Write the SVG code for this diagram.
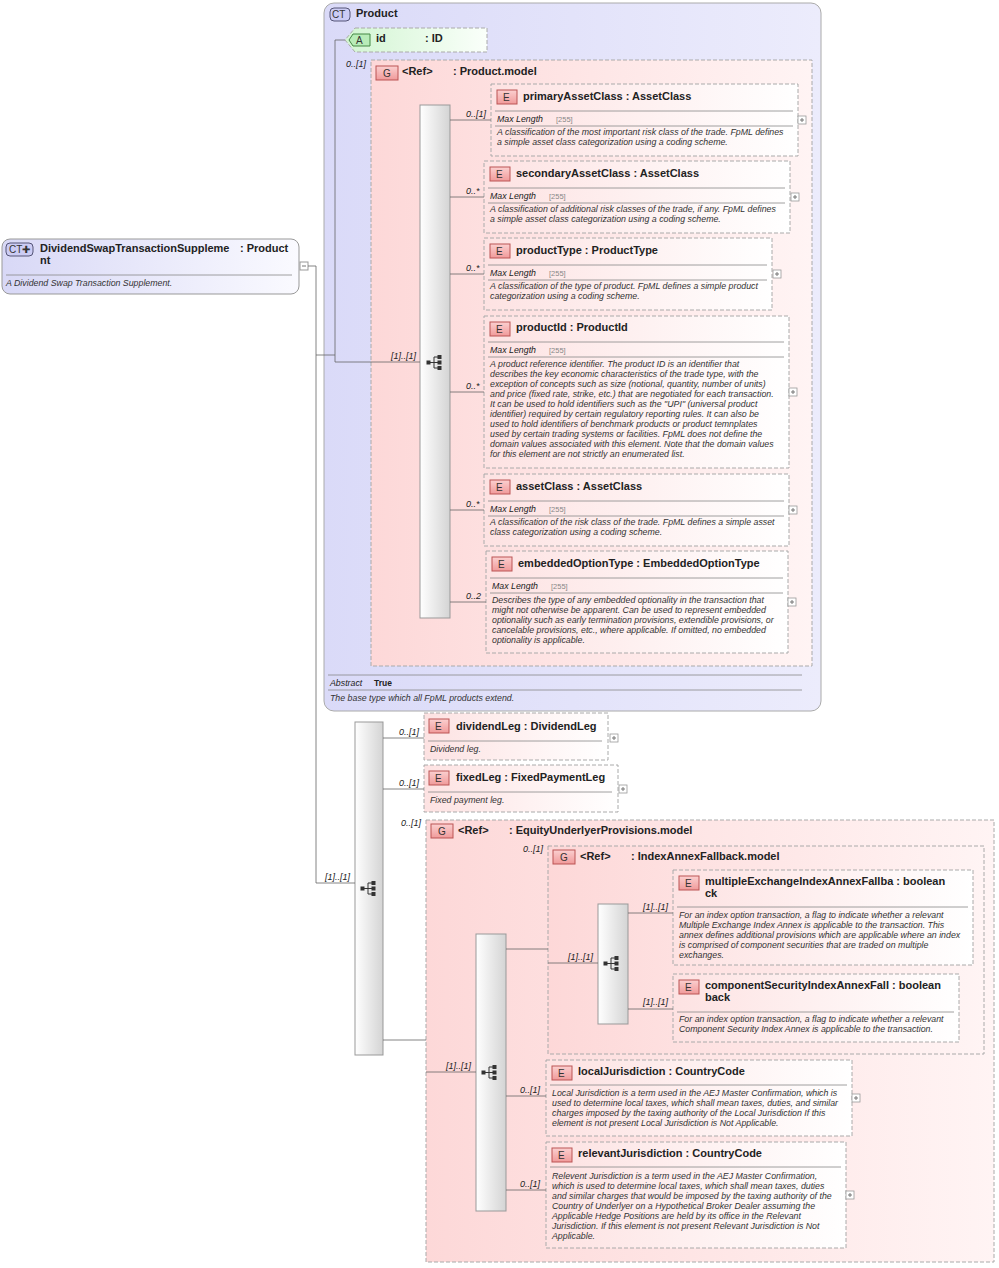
<svg xmlns="http://www.w3.org/2000/svg" width="999" height="1268" viewBox="0 0 999 1268">
<defs>
<linearGradient id="ct" x1="0" y1="0" x2="1" y2="0"><stop offset="0" stop-color="#dadaf8"/><stop offset="1" stop-color="#ececfc"/></linearGradient>
<linearGradient id="root" x1="0" y1="0" x2="1" y2="0"><stop offset="0" stop-color="#d8d8f6"/><stop offset="1" stop-color="#fafaff"/></linearGradient>
<linearGradient id="grp" x1="0" y1="0" x2="1" y2="0"><stop offset="0" stop-color="#fdd8d8"/><stop offset="1" stop-color="#fff4f4"/></linearGradient>
<linearGradient id="el" x1="0" y1="0" x2="1" y2="0"><stop offset="0" stop-color="#fde2e2"/><stop offset="1" stop-color="#ffffff"/></linearGradient>
<linearGradient id="seq" x1="0" y1="0" x2="1" y2="0"><stop offset="0" stop-color="#ffffff"/><stop offset="1" stop-color="#d4d4d4"/></linearGradient>
<linearGradient id="att" x1="0" y1="0" x2="1" y2="0"><stop offset="0" stop-color="#d2f5d2"/><stop offset="1" stop-color="#fafffa"/></linearGradient>
<linearGradient id="eb" x1="0" y1="0" x2="0" y2="1"><stop offset="0" stop-color="#fbd0d0"/><stop offset="1" stop-color="#f09a9a"/></linearGradient>
<g id="seqicon" stroke="#333" fill="#333"><rect x="-9" y="-1" width="3" height="3"/><line x1="-6" y1="0.5" x2="-2" y2="0.5"/><line x1="-2" y1="-5" x2="-2" y2="6"/><line x1="-2" y1="-5" x2="2" y2="-5"/><line x1="-2" y1="0.5" x2="2" y2="0.5"/><line x1="-2" y1="6" x2="2" y2="6"/><rect x="2" y="-6.5" width="3" height="3"/><rect x="2" y="-1" width="3" height="3"/><rect x="2" y="4.5" width="3" height="3"/></g>
<g id="plus"><rect x="0" y="0" width="8" height="8" fill="#fff" stroke="#999" stroke-width="0.8"/><line x1="2" y1="4" x2="6" y2="4" stroke="#777"/><line x1="4" y1="2" x2="4" y2="6" stroke="#777"/></g>
</defs>
<style>
text{font-family:"Liberation Sans",Arial,sans-serif;fill:#222}
.t{font-size:11px;font-weight:bold}
.d{font-size:8.8px;font-style:italic;fill:#333}
.m{font-size:8.8px;font-style:italic;fill:#222}
.v{font-size:7.5px;fill:#888}
.c{font-size:9px;font-style:italic}
.el{fill:url(#el);stroke:#aaa;stroke-dasharray:4,2}
.gp{fill:url(#grp);stroke:#aaa;stroke-dasharray:4,2}
.sq{fill:url(#seq);stroke:#999}
.ln{stroke:#666;stroke-width:0.8;fill:none}
.dv{stroke:#888;stroke-width:0.8}
.bE{fill:url(#eb);stroke:#b55}
.bt{font-size:10px;fill:#333}
</style>
<g id="root-node">
<rect x="2" y="239" width="297" height="55" rx="8" fill="url(#root)" stroke="#999"/>
<rect x="6" y="243" width="27" height="13" rx="4" fill="#ccccf4" stroke="#557"/><text class="bt" x="9" y="253">CT✚</text>
<text class="t" x="40" y="252">DividendSwapTransactionSuppleme</text><text class="t" x="240" y="252">: Product</text><text class="t" x="40" y="264">nt</text>
<line class="dv" x1="6" y1="275" x2="292" y2="275"/><text class="d" x="6" y="286">A Dividend Swap Transaction Supplement.</text>
<rect x="300" y="262" width="8" height="8" fill="#fff" stroke="#999"/><line x1="302" y1="266" x2="306" y2="266" stroke="#777"/>
</g>
<g id="product">
<rect x="324" y="3" width="497" height="708" rx="10" fill="url(#ct)" stroke="#aaa"/>
<rect x="330" y="8" width="20" height="13" rx="4" fill="#ccccf4" stroke="#557"/><text class="bt" x="332" y="18">CT</text>
<text class="t" x="356" y="17">Product</text>
<line class="dv" x1="328" y1="675" x2="802" y2="675"/><text class="m" x="330" y="686">Abstract</text><text x="374" y="686" style="font-size:8.5px;font-weight:bold">True</text>
<line class="dv" x1="328" y1="690" x2="802" y2="690"/><text class="d" x="330" y="701">The base type which all FpML products extend.</text>
</g>
<g id="attr-id">
<path d="M355 28H487V52H355L345 40Z" fill="url(#att)" stroke="#aaa" stroke-dasharray="4,2"/>
<path d="M353 34H370V46H353L349 40Z" fill="#b8ecb8" stroke="#484"/><text class="bt" x="356" y="44">A</text>
<text class="t" x="376" y="42">id</text><text class="t" x="425" y="42">: ID</text>
</g>
<g id="product-model">
<rect class="gp" x="371" y="60" width="441" height="606"/>
<rect class="bE" x="376" y="66" width="22" height="14"/><text class="bt" x="383" y="77">G</text>
<text class="t" x="402" y="75">&lt;Ref&gt;</text><text class="t" x="453" y="75">: Product.model</text>
<rect class="sq" x="420" y="105" width="30" height="513"/><use href="#seqicon" x="436" y="362"/>
</g>
<g id="primaryAssetClass">
<rect class="el" x="491" y="84" width="307" height="72"/><rect class="bE" x="497" y="90" width="20" height="14"/><text class="bt" x="503" y="101">E</text>
<text class="t" x="523" y="100">primaryAssetClass : AssetClass</text>
<line class="dv" x1="495" y1="111" x2="793" y2="111"/><text class="m" x="497" y="122">Max Length</text><text class="v" x="556" y="122">[255]</text>
<line class="dv" x1="495" y1="126" x2="793" y2="126"/>
<text class="d" x="497" y="135">A classification of the most important risk class of the trade. FpML defines</text><text class="d" x="497" y="145">a simple asset class categorization using a coding scheme.</text>
<use href="#plus" x="798" y="116"/>
</g>
<g id="secondaryAssetClass">
<rect class="el" x="484" y="161" width="306" height="72"/><rect class="bE" x="490" y="167" width="20" height="14"/><text class="bt" x="496" y="178">E</text>
<text class="t" x="516" y="177">secondaryAssetClass : AssetClass</text>
<line class="dv" x1="488" y1="188" x2="785" y2="188"/><text class="m" x="490" y="199">Max Length</text><text class="v" x="549" y="199">[255]</text>
<line class="dv" x1="488" y1="203" x2="785" y2="203"/>
<text class="d" x="490" y="212">A classification of additional risk classes of the trade, if any. FpML defines</text><text class="d" x="490" y="222">a simple asset class categorization using a coding scheme.</text>
<use href="#plus" x="791" y="193"/>
</g>
<g id="productType">
<rect class="el" x="484" y="238" width="288" height="72"/><rect class="bE" x="490" y="244" width="20" height="14"/><text class="bt" x="496" y="255">E</text>
<text class="t" x="516" y="254">productType : ProductType</text>
<line class="dv" x1="488" y1="265" x2="767" y2="265"/><text class="m" x="490" y="276">Max Length</text><text class="v" x="549" y="276">[255]</text>
<line class="dv" x1="488" y1="280" x2="767" y2="280"/>
<text class="d" x="490" y="289">A classification of the type of product. FpML defines a simple product</text><text class="d" x="490" y="299">categorization using a coding scheme.</text>
<use href="#plus" x="773" y="270"/>
</g>
<g id="productId">
<rect class="el" x="484" y="316" width="305" height="152"/><rect class="bE" x="490" y="322" width="20" height="14"/><text class="bt" x="496" y="333">E</text>
<text class="t" x="516" y="331">productId : ProductId</text>
<line class="dv" x1="488" y1="342" x2="784" y2="342"/><text class="m" x="490" y="353">Max Length</text><text class="v" x="549" y="353">[255]</text>
<line class="dv" x1="488" y1="357" x2="784" y2="357"/>
<text class="d" x="490" y="367">A product reference identifier. The product ID is an identifier that</text>
<text class="d" x="490" y="377">describes the key economic characteristics of the trade type, with the</text>
<text class="d" x="490" y="387">exception of concepts such as size (notional, quantity, number of units)</text>
<text class="d" x="490" y="397">and price (fixed rate, strike, etc.) that are negotiated for each transaction.</text>
<text class="d" x="490" y="407">It can be used to hold identifiers such as the "UPI" (universal product</text>
<text class="d" x="490" y="417">identifier) required by certain regulatory reporting rules. It can also be</text>
<text class="d" x="490" y="427">used to hold identifiers of benchmark products or product temnplates</text>
<text class="d" x="490" y="437">used by certain trading systems or facilities. FpML does not define the</text>
<text class="d" x="490" y="447">domain values associated with this element. Note that the domain values</text>
<text class="d" x="490" y="457">for this element are not strictly an enumerated list.</text>
<use href="#plus" x="789" y="388"/>
</g>
<g id="assetClass">
<rect class="el" x="484" y="474" width="305" height="72"/><rect class="bE" x="490" y="480" width="20" height="14"/><text class="bt" x="496" y="491">E</text>
<text class="t" x="516" y="490">assetClass : AssetClass</text>
<line class="dv" x1="488" y1="501" x2="784" y2="501"/><text class="m" x="490" y="512">Max Length</text><text class="v" x="549" y="512">[255]</text>
<line class="dv" x1="488" y1="516" x2="784" y2="516"/>
<text class="d" x="490" y="525">A classification of the risk class of the trade. FpML defines a simple asset</text><text class="d" x="490" y="535">class categorization using a coding scheme.</text>
<use href="#plus" x="789" y="506"/>
</g>
<g id="embeddedOptionType">
<rect class="el" x="486" y="551" width="302" height="102"/><rect class="bE" x="492" y="557" width="20" height="14"/><text class="bt" x="498" y="568">E</text>
<text class="t" x="518" y="567">embeddedOptionType : EmbeddedOptionType</text>
<line class="dv" x1="490" y1="578" x2="783" y2="578"/><text class="m" x="492" y="589">Max Length</text><text class="v" x="551" y="589">[255]</text>
<line class="dv" x1="490" y1="593" x2="783" y2="593"/>
<text class="d" x="492" y="603">Describes the type of any embedded optionality in the transaction that</text>
<text class="d" x="492" y="613">might not otherwise be apparent. Can be used to represent embedded</text>
<text class="d" x="492" y="623">optionality such as early termination provisions, extendible provisions, or</text>
<text class="d" x="492" y="633">cancelable provisions, etc., where applicable. If omitted, no embedded</text>
<text class="d" x="492" y="643">optionality is applicable.</text>
<use href="#plus" x="788" y="598"/>
</g>
<g id="main-sequence"><rect class="sq" x="355" y="722" width="28" height="333"/><use href="#seqicon" x="370" y="888"/></g>
<g id="dividendLeg">
<rect class="el" x="424" y="713" width="184" height="47"/><rect class="bE" x="429" y="719" width="20" height="14"/><text class="bt" x="435" y="730">E</text>
<text class="t" x="456" y="730">dividendLeg : DividendLeg</text>
<line class="dv" x1="428" y1="741" x2="602" y2="741"/><text class="d" x="430" y="752">Dividend leg.</text>
<use href="#plus" x="610" y="734"/>
</g>
<g id="fixedLeg">
<rect class="el" x="424" y="765" width="194" height="47"/><rect class="bE" x="429" y="771" width="20" height="14"/><text class="bt" x="435" y="782">E</text>
<text class="t" x="456" y="781">fixedLeg : FixedPaymentLeg</text>
<line class="dv" x1="428" y1="792" x2="612" y2="792"/><text class="d" x="430" y="803">Fixed payment leg.</text>
<use href="#plus" x="619" y="785"/>
</g>
<g id="equityUnderlyer">
<rect class="gp" x="426" y="820" width="568" height="442"/>
<rect class="bE" x="431" y="824" width="22" height="14"/><text class="bt" x="438" y="835">G</text>
<text class="t" x="458" y="834">&lt;Ref&gt;</text><text class="t" x="509" y="834">: EquityUnderlyerProvisions.model</text>
<rect class="sq" x="476" y="934" width="30" height="277"/><use href="#seqicon" x="491" y="1072"/>
</g>
<g id="indexAnnex">
<rect class="gp" x="548" y="846" width="436" height="208"/>
<rect class="bE" x="553" y="850" width="22" height="14"/><text class="bt" x="560" y="861">G</text>
<text class="t" x="580" y="860">&lt;Ref&gt;</text><text class="t" x="631" y="860">: IndexAnnexFallback.model</text>
<rect class="sq" x="598" y="904" width="30" height="120"/><use href="#seqicon" x="613" y="963"/>
</g>
<g id="multipleExchange">
<rect class="el" x="673" y="870" width="300" height="95"/><rect class="bE" x="679" y="876" width="20" height="14"/><text class="bt" x="685" y="887">E</text>
<text class="t" x="705" y="885">multipleExchangeIndexAnnexFallba : boolean</text><text class="t" x="705" y="897">ck</text>
<line class="dv" x1="677" y1="907" x2="968" y2="907"/>
<text class="d" x="679" y="918">For an index option transaction, a flag to indicate whether a relevant</text>
<text class="d" x="679" y="928">Multiple Exchange Index Annex is applicable to the transaction. This</text>
<text class="d" x="679" y="938">annex defines additional provisions which are applicable where an index</text>
<text class="d" x="679" y="948">is comprised of component securities that are traded on multiple</text>
<text class="d" x="679" y="958">exchanges.</text>
</g>
<g id="componentSecurity">
<rect class="el" x="673" y="974" width="286" height="68"/><rect class="bE" x="679" y="980" width="20" height="14"/><text class="bt" x="685" y="991">E</text>
<text class="t" x="705" y="989">componentSecurityIndexAnnexFall : boolean</text><text class="t" x="705" y="1001">back</text>
<line class="dv" x1="677" y1="1012" x2="954" y2="1012"/>
<text class="d" x="679" y="1022">For an index option transaction, a flag to indicate whether a relevant</text>
<text class="d" x="679" y="1032">Component Security Index Annex is applicable to the transaction.</text>
</g>
<g id="localJurisdiction">
<rect class="el" x="546" y="1060" width="306" height="76"/><rect class="bE" x="552" y="1066" width="20" height="14"/><text class="bt" x="558" y="1077">E</text>
<text class="t" x="578" y="1075">localJurisdiction : CountryCode</text>
<line class="dv" x1="550" y1="1085" x2="847" y2="1085"/>
<text class="d" x="552" y="1096">Local Jurisdiction is a term used in the AEJ Master Confirmation, which is</text>
<text class="d" x="552" y="1106">used to determine local taxes, which shall mean taxes, duties, and similar</text>
<text class="d" x="552" y="1116">charges imposed by the taxing authority of the Local Jurisdiction If this</text>
<text class="d" x="552" y="1126">element is not present Local Jurisdiction is Not Applicable.</text>
<use href="#plus" x="852" y="1094"/>
</g>
<g id="relevantJurisdiction">
<rect class="el" x="546" y="1142" width="300" height="106"/><rect class="bE" x="552" y="1148" width="20" height="14"/><text class="bt" x="558" y="1159">E</text>
<text class="t" x="578" y="1157">relevantJurisdiction : CountryCode</text>
<line class="dv" x1="550" y1="1167" x2="841" y2="1167"/>
<text class="d" x="552" y="1179">Relevent Jurisdiction is a term used in the AEJ Master Confirmation,</text>
<text class="d" x="552" y="1189">which is used to determine local taxes, which shall mean taxes, duties</text>
<text class="d" x="552" y="1199">and similar charges that would be imposed by the taxing authority of the</text>
<text class="d" x="552" y="1209">Country of Underlyer on a Hypothetical Broker Dealer assuming the</text>
<text class="d" x="552" y="1219">Applicable Hedge Positions are held by its office in the Relevant</text>
<text class="d" x="552" y="1229">Jurisdiction. If this element is not present Relevant Jurisdiction is Not</text>
<text class="d" x="552" y="1239">Applicable.</text>
<use href="#plus" x="846" y="1191"/>
</g>
<g id="connectors">
<path class="ln" d="M308 266H316V883H355M316 355H335M335 40H345M335 40V362H420M450 120H491M450 197H484M450 274H484M450 392H484M450 510H484M450 602H486M383 738H424M383 789H424M383 1040H426M426 1072H476M506 949H548M506 1096H546M506 1190H546M548 963H598M628 913H673M628 1009H673"/>
<text class="c" x="466" y="117">0..[1]</text><text class="c" x="466" y="194">0..*</text><text class="c" x="466" y="271">0..*</text><text class="c" x="466" y="389">0..*</text><text class="c" x="466" y="507">0..*</text><text class="c" x="466" y="599">0..2</text>
<text class="c" x="391" y="359">[1]..[1]</text><text class="c" x="346" y="67">0..[1]</text>
<text class="c" x="325" y="880">[1]..[1]</text><text class="c" x="399" y="735">0..[1]</text><text class="c" x="399" y="786">0..[1]</text><text class="c" x="401" y="826">0..[1]</text>
<text class="c" x="446" y="1069">[1]..[1]</text><text class="c" x="523" y="852">0..[1]</text><text class="c" x="568" y="960">[1]..[1]</text><text class="c" x="643" y="910">[1]..[1]</text><text class="c" x="643" y="1005">[1]..[1]</text><text class="c" x="520" y="1093">0..[1]</text><text class="c" x="520" y="1187">0..[1]</text>
</g>
</svg>
